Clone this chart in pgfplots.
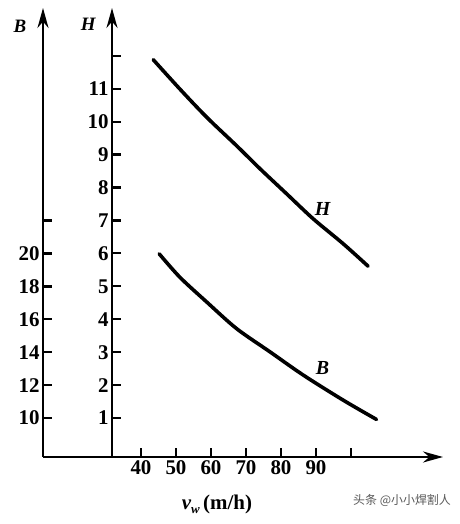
\documentclass[border=0pt]{standalone}
\usepackage{pgfplots}
\pgfplotsset{compat=1.18}
\usepackage{fontspec}
\setmainfont{Liberation Serif}
\newfontfamily\cjk{Noto Sans CJK SC}
\usetikzlibrary{arrows.meta}

\pgfplotsset{
  common/.style={
    scale only axis, height=449bp,
    clip=false,
    major tick length=9bp,
    every tick/.style={black, line width=2.2bp},
    /pgf/number format/assume math mode=true,
    tick label style={font=\fontsize{21}{21}\selectfont\bfseries},
  },
  fixlines/.style={
    tick align=inside,
    axis line style={line width=2.5bp, -{Stealth[length=20bp,width=11bp]}},
  }
}

\begin{document}
\begin{tikzpicture}
\path[use as bounding box] (-43bp,-67bp) rectangle (417bp,457bp);
% B axis (outer)
\begin{axis}[common, at={(0,0)}, anchor=south west,
  width=400bp,
  xmin=12, xmax=126.3, ymin=7.64, ymax=34.91,
  axis x line=bottom, axis y line=left,
  fixlines,
  xtick={40,50,60,70,80,90,100},
  xticklabels={40,50,60,70,80,90,{}},
  ytick={10,12,14,16,18,20,22},
  yticklabels={10,12,14,16,18,20,{}},
]
\addplot[smooth, line width=3.6bp, line cap=round, black] coordinates {
  (45.2,19.98) (51.1,18.56) (58.8,17.05) (67.3,15.44) (76.9,14.02) (86.4,12.61) (97.8,11.09) (107.3,9.92)
};
\node[font=\fontsize{20}{20}\selectfont\bfseries\itshape] at (axis cs:91.9,13.05) {B};
\node[font=\fontsize{19}{19}\selectfont\bfseries\itshape] at (axis cs:5.4,33.8) {B};
\node[font=\fontsize{21}{21}\selectfont\bfseries] at (axis cs:61.7,4.73)
  {{\itshape v}\raisebox{-0.35ex}{\fontsize{13}{13}\selectfont\itshape w}\,(m/h)};
\node[font=\cjk\fontsize{12}{12}\selectfont, text=black!65] at (axis cs:114.6,5.0) {头条 @小小焊割人};
\end{axis}
% H axis (inner)
\begin{axis}[common, at={(69bp,0)}, anchor=south west,
  width=331bp,
  xmin=31.71, xmax=126.3, ymin=-0.182, ymax=13.45,
  axis x line=none, axis y line=left,
  fixlines,
  xtick=\empty,
  ytick={1,2,3,4,5,6,7,8,9,10,11,12},
  yticklabels={1,2,3,4,5,6,7,8,9,10,11,{}},
]
\addplot[smooth, line width=3.6bp, line cap=round, black] coordinates {
  (43.5,11.88) (51.1,10.99) (58.8,10.13) (67.3,9.27) (74.0,8.57) (81.6,7.81) (89.2,7.05) (97.8,6.29) (104.9,5.61)
};
\node[font=\fontsize{20}{20}\selectfont\bfseries\itshape] at (axis cs:91.9,7.35) {H};
\node[font=\fontsize{19}{19}\selectfont\bfseries\itshape] at (axis cs:24.9,12.94) {H};
\end{axis}
\end{tikzpicture}
\end{document}
